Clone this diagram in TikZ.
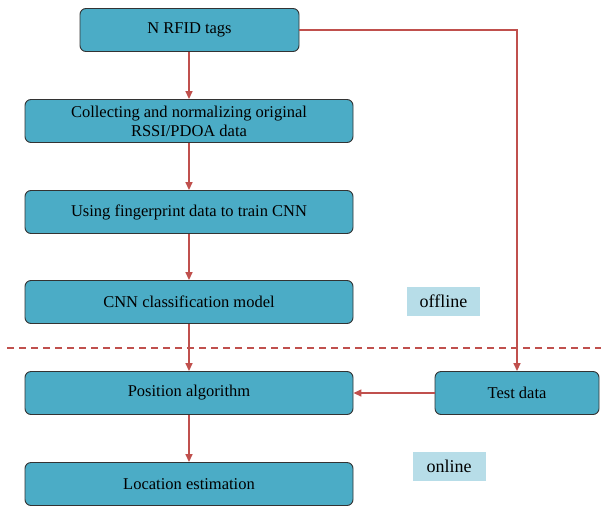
\documentclass[tikz,border=0pt]{standalone}
\usepackage{fontspec}
\setmainfont{Liberation Serif}
\usetikzlibrary{arrows.meta}
\definecolor{boxfill}{HTML}{4BACC6}
\definecolor{lblfill}{HTML}{B7DDE8}
\definecolor{linered}{HTML}{C0504D}
\begin{document}
\begin{tikzpicture}[x=1pt,y=-1pt,
  procbox/.style={draw=black!80, line width=0.9pt, fill=boxfill, rounded corners=6pt,
    minimum height=43pt, align=center, inner sep=2pt, font=\fontsize{16.5}{19}\selectfont},
  tagbox/.style={fill=lblfill, minimum width=73pt, minimum height=29pt, inner sep=0pt,
    font=\fontsize{18}{20}\selectfont},
  flow/.style={draw=linered, line width=1.5pt, -{Triangle[length=8pt,width=7pt]}}]
\useasboundingbox (0,0) rectangle (601,506);
\node[procbox, minimum width=219pt] (tags) at (189.5,30) {N RFID tags};
\node[procbox, minimum width=328pt] (collect) at (189,121) {Collecting and normalizing original\\RSSI/PDOA data};
\node[procbox, minimum width=328pt] (train) at (189,212) {Using fingerprint data to train CNN};
\node[procbox, minimum width=328pt] (cnn) at (189,302) {CNN classification model};
\node[procbox, minimum width=328pt] (pos) at (189,393) {Position algorithm};
\node[procbox, minimum width=328pt] (loc) at (189,484) {Location estimation};
\node[procbox, minimum width=164pt] (test) at (517,393) {Test data};
\node[tagbox] (offline) at (443.5,301.5) {offline};
\node[tagbox] (online) at (449,466.5) {online};
\coordinate (dl) at (7,348);
\coordinate (dr) at (601,348);
\draw[linered, line width=1.5pt, dash pattern=on 7pt off 5pt] (dl) -- (dr);
\draw[flow] (tags.south -| collect) -- (collect);
\draw[flow] (collect) -- (train);
\draw[flow] (train) -- (cnn);
\draw[flow] (cnn) -- (pos);
\draw[flow] (pos) -- (loc);
\draw[flow] (tags.east) -| (test.north);
\draw[flow] (test) -- (pos);
\end{tikzpicture}
\end{document}
